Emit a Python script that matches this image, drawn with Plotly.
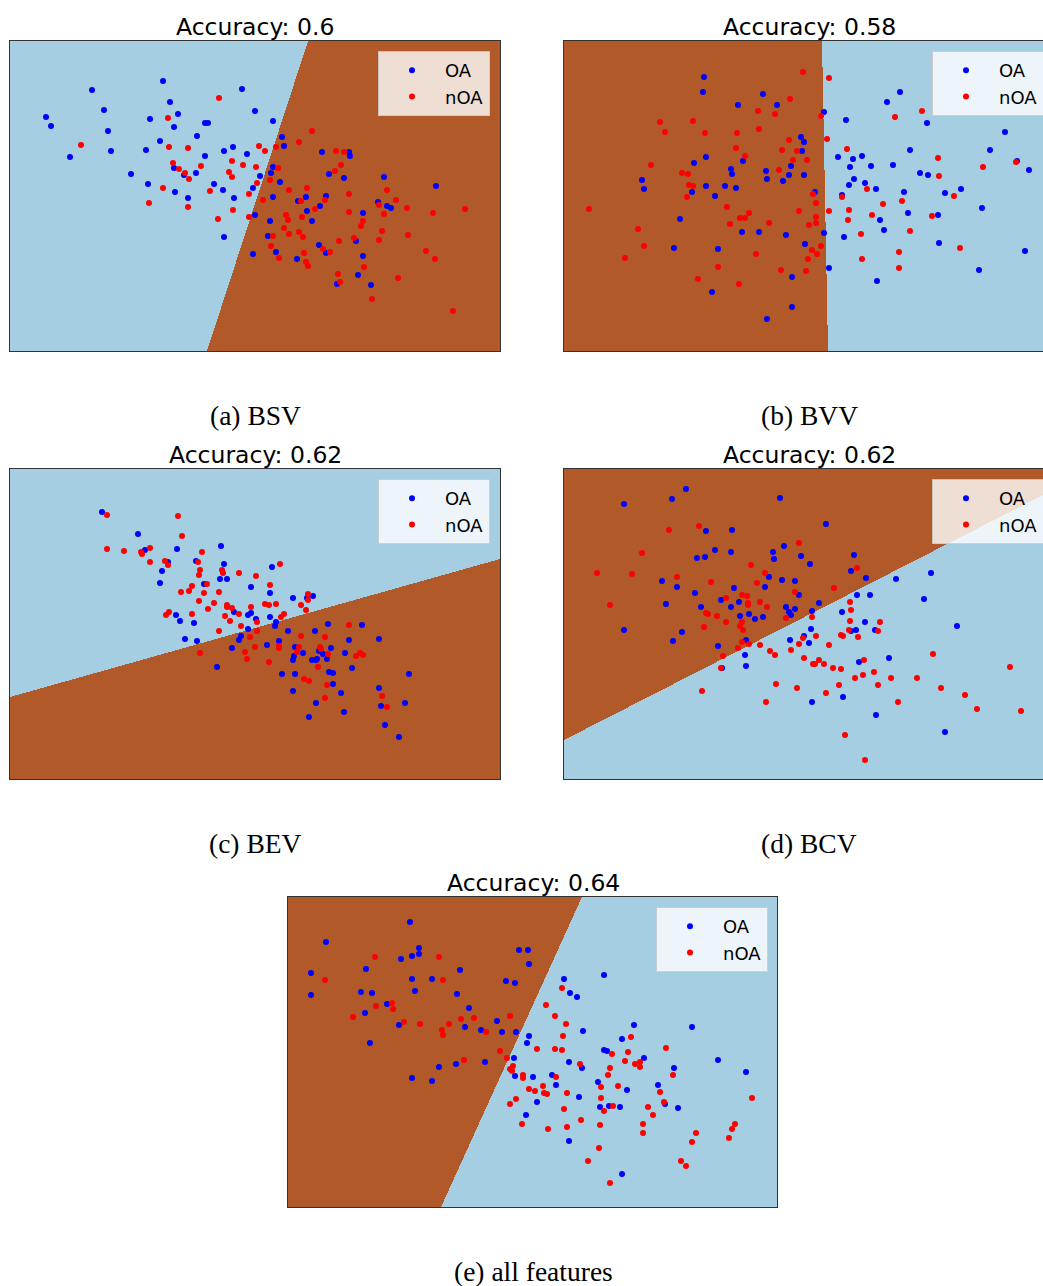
import numpy as np
import plotly.graph_objects as go

W, H = 1043, 1286

# ---------------- data (panel pixel units, y down) ----------------
titles = ["Accuracy: 0.6", "Accuracy: 0.58", "Accuracy: 0.62", "Accuracy: 0.62", "Accuracy: 0.64"]
captions = ["(a) BSV", "(b) BVV", "(c) BEV", "(d) BCV", "(e) all features"]
class_names = ["OA", "nOA"]

a_oa = [(153,40),(82,49),(232,48),(160,61),(94,69),(168,73),(245,70),(36,76),(140,78),(41,85),(195,82),(198,82),(164,86),(98,90),(187,95),(150,100),(136,109),(101,110),(60,116),(214,110),(223,106),(237,113),(195,115),(164,127),(174,134),(186,132),(121,133),(138,143),(204,143),(213,149),(165,151),(178,157),(224,157),(243,147),(250,135),(245,174),(214,196),(243,213),(263,80),(272,96),(274,105),(312,111),(339,111),(340,115),(263,126),(261,132),(319,133),(334,137),(270,141),(374,136),(426,145),(263,156),(296,156),(316,155),(288,160),(310,165),(297,170),(368,161),(377,165),(381,167),(353,172),(260,180),(302,180),(258,195),(346,200),(309,204),(316,212),(266,211),(287,218),(353,215),(348,234),(327,243),(361,244)]
a_noa = [(209,57),(158,77),(71,104),(159,106),(178,107),(249,105),(222,120),(233,124),(246,126),(163,122),(169,128),(175,132),(179,138),(191,125),(219,131),(222,136),(247,142),(153,147),(200,150),(239,153),(139,162),(178,166),(223,169),(208,178),(239,176),(302,90),(289,101),(255,110),(266,106),(326,110),(334,111),(331,124),(268,127),(325,130),(260,139),(279,149),(297,147),(339,153),(377,149),(253,159),(291,160),(315,159),(305,168),(339,171),(369,164),(374,173),(386,159),(397,167),(423,172),(455,168),(276,174),(278,179),(292,176),(353,180),(351,185),(274,187),(279,193),(289,191),(293,196),(263,195),(372,190),(369,199),(398,194),(329,200),(344,197),(261,205),(313,208),(320,211),(294,212),(269,217),(416,210),(425,218),(296,221),(298,225),(354,226),(328,233),(330,241),(388,237),(362,258),(443,270)]
a_boundary = [(298, 0), (197, 310)]
a_corner = "OA"

b_oa = [(140,36),(139,51),(199,53),(174,64),(213,64),(237,96),(240,101),(238,110),(142,116),(130,122),(179,120),(167,128),(168,133),(202,130),(203,138),(227,125),(225,134),(219,140),(240,134),(78,139),(80,148),(142,145),(161,145),(172,147),(128,151),(151,155),(116,178),(178,191),(195,191),(222,194),(241,203),(110,207),(154,208),(228,236),(148,251),(228,266),(203,278),(260,71),(282,79),(336,51),(323,61),(363,82),(441,91),(426,109),(346,109),(274,116),(289,118),(298,115),(286,126),(307,125),(329,124),(453,120),(465,129),(356,132),(364,134),(290,138),(285,144),(301,142),(312,148),(340,151),(381,152),(397,148),(278,154),(418,167),(344,172),(374,174),(316,179),(320,189),(260,192),(280,196),(375,202),(461,210),(265,227),(415,229),(313,240),(251,151)]
b_noa = [(239,31),(226,58),(194,70),(211,73),(96,81),(129,80),(101,91),(141,92),(173,92),(195,88),(225,99),(172,107),(218,109),(233,110),(181,115),(229,119),(243,119),(87,124),(118,132),(124,133),(215,129),(125,144),(129,145),(123,156),(249,153),(25,168),(163,166),(185,172),(176,177),(181,177),(166,183),(235,170),(205,182),(245,184),(74,188),(80,205),(61,217),(192,213),(248,209),(244,218),(154,226),(217,229),(242,230),(134,238),(175,243),(265,37),(257,75),(263,98),(283,108),(252,162),(265,170),(252,176),(252,182),(257,205),(253,213),(303,148),(278,156),(285,169),(284,179),(308,174),(319,163),(338,160),(368,175),(297,193),(346,190),(335,211),(298,218),(335,227),(396,207),(374,117),(375,135),(390,155),(419,126),(452,121),(358,70),(331,76)]
b_boundary = [(258, 0), (264, 310)]
b_corner = "nOA"

c_oa = [(92,43),(128,65),(135,81),(167,80),(211,77),(158,93),(186,92),(214,95),(152,102),(210,110),(217,110),(150,114),(194,115),(241,118),(166,146),(170,152),(184,154),(224,143),(238,146),(241,144),(246,150),(238,160),(175,170),(187,172),(231,167),(229,171),(222,179),(207,198),(262,98),(260,124),(283,129),(297,129),(303,127),(260,148),(266,153),(265,157),(278,162),(305,162),(318,155),(352,156),(339,171),(369,170),(257,176),(269,172),(285,178),(293,184),(309,182),(321,179),(313,185),(335,184),(284,187),(283,191),(302,191),(306,191),(307,190),(317,190),(342,199),(272,205),(285,205),(319,203),(323,204),(399,205),(323,215),(283,222),(331,224),(369,219),(306,234),(371,237),(395,234),(334,243),(299,248),(375,256),(389,268)]
c_noa = [(97,46),(168,47),(172,67),(97,80),(114,82),(131,83),(132,85),(140,79),(192,83),(140,93),(155,92),(158,96),(188,93),(190,101),(189,106),(212,101),(213,104),(229,104),(246,107),(197,115),(182,117),(179,122),(171,123),(194,124),(209,123),(189,132),(204,134),(198,140),(217,136),(217,138),(222,139),(241,138),(229,145),(215,147),(220,152),(247,153),(156,146),(159,143),(182,145),(231,157),(209,162),(247,162),(240,168),(245,178),(235,183),(237,190),(190,184),(270,95),(260,116),(255,135),(259,136),(266,135),(291,136),(298,125),(298,131),(296,141),(271,148),(274,145),(339,156),(291,167),(315,168),(269,177),(269,179),(289,178),(287,183),(310,178),(311,180),(318,185),(346,187),(350,184),(353,186),(259,193),(308,198),(294,210),(299,212),(317,216),(315,229),(372,227),(377,238)]
c_boundary = [(0, 228), (490, 90)]
c_corner = "OA"

d_oa = [(122,20),(60,35),(108,30),(216,29),(142,62),(168,61),(151,81),(133,89),(141,88),(167,83),(209,83),(210,90),(220,77),(237,87),(246,95),(98,112),(113,118),(131,124),(170,119),(205,108),(201,118),(218,111),(231,112),(235,126),(157,131),(175,133),(167,138),(137,138),(102,135),(222,138),(231,140),(225,143),(227,146),(176,147),(185,145),(191,150),(199,148),(60,161),(118,163),(109,172),(154,177),(182,171),(181,186),(182,197),(158,199),(226,171),(245,174),(248,142),(247,160),(248,233),(262,55),(290,86),(287,102),(302,109),(332,110),(367,104),(293,126),(306,126),(255,134),(360,130),(278,143),(301,153),(292,161),(287,162),(311,161),(393,157),(240,167),(325,189),(295,193),(279,228),(312,246),(381,263)]
d_noa = [(105,61),(135,57),(78,84),(33,104),(68,105),(113,108),(147,113),(187,96),(201,104),(193,114),(235,74),(231,123),(46,136),(162,129),(178,126),(183,127),(184,134),(184,136),(196,133),(203,138),(142,144),(144,145),(153,147),(162,153),(178,153),(176,157),(179,161),(140,158),(222,149),(248,148),(178,173),(185,175),(196,176),(174,179),(206,182),(211,186),(159,187),(157,199),(227,181),(235,175),(239,169),(240,189),(249,195),(212,215),(233,219),(138,222),(202,233),(293,99),(270,119),(286,133),(287,141),(286,152),(316,153),(285,161),(314,162),(277,166),(279,167),(294,168),(252,167),(265,176),(255,191),(251,195),(260,195),(269,199),(277,200),(300,191),(369,185),(310,203),(299,206),(291,209),(327,209),(353,209),(314,216),(275,216),(262,224),(377,219),(401,226),(446,198),(413,240),(457,242),(334,233),(281,266),(301,291)]
d_boundary = [(0, 271), (479, 26)]
d_corner = "nOA"

e_oa = [(122,25),(38,45),(131,51),(124,59),(131,57),(113,62),(78,72),(23,76),(172,73),(124,82),(144,82),(231,53),(240,53),(241,67),(218,84),(227,86),(73,95),(84,96),(127,94),(169,97),(23,98),(99,107),(77,116),(181,111),(111,128),(177,130),(209,124),(193,133),(214,135),(228,135),(82,146),(241,139),(239,146),(226,161),(197,165),(168,167),(151,170),(227,179),(245,180),(124,181),(144,184),(249,205),(238,218),(276,82),(316,78),(282,96),(289,100),(346,128),(404,130),(295,134),(334,142),(316,153),(319,154),(356,161),(281,165),(294,171),(386,171),(430,163),(458,175),(264,178),(268,188),(310,185),(339,193),(370,188),(291,200),(312,210),(321,209),(332,210),(377,207),(390,211),(281,244),(334,277)]
e_noa = [(87,60),(151,60),(37,83),(155,83),(104,106),(105,112),(88,109),(65,120),(116,125),(132,127),(161,127),(173,122),(186,121),(222,119),(154,133),(155,138),(198,135),(212,154),(219,161),(249,152),(176,163),(222,172),(225,169),(224,174),(235,178),(235,181),(241,192),(247,194),(222,207),(228,202),(234,227),(274,91),(258,108),(267,119),(278,127),(275,139),(343,140),(267,152),(274,153),(324,157),(340,155),(378,151),(337,164),(347,167),(352,165),(352,170),(292,167),(322,171),(320,178),(385,178),(268,180),(313,190),(330,189),(255,189),(256,196),(259,197),(279,196),(372,195),(376,205),(313,201),(325,209),(316,214),(276,212),(360,210),(365,218),(464,201),(293,223),(260,232),(279,230),(312,228),(355,227),(355,236),(408,236),(404,245),(447,227),(444,232),(441,241),(311,251),(300,264),(393,264),(398,269),(322,286)]
e_boundary = [(294, 0), (153, 310)]
e_corner = "nOA"

# ---------------- layout geometry (pixels on the page) ----------------
# (left, top, visible width, height); panel b/d are cut by the right page edge
boxes = [(10, 41, 490, 310), (564, 41, 479, 310), (10, 469, 490, 310),
         (564, 469, 479, 310), (288, 897, 489, 310)]
FULL_W = 490

panels = [
    (a_oa, a_noa, a_boundary, a_corner),
    (b_oa, b_noa, b_boundary, b_corner),
    (c_oa, c_noa, c_boundary, c_corner),
    (d_oa, d_noa, d_boundary, d_corner),
    (e_oa, e_noa, e_boundary, e_corner),
]

C_OA_REGION = "#a6cee3"
C_NOA_REGION = "#b15928"
C_OA = "#0000ff"
C_NOA = "#ff0000"


def region_grid(boundary, corner, w, h):
    (x0, y0), (x1, y1) = boundary
    xs = np.arange(w) + 0.5
    ys = np.arange(h) + 0.5
    X, Y = np.meshgrid(xs, ys)
    side = (x1 - x0) * (Y - y0) - (y1 - y0) * (X - x0)
    corner_side = (x1 - x0) * (0 - y0) - (y1 - y0) * (0 - x0)
    corner_cls = class_names.index(corner)
    same = (side > 0) == (corner_side > 0)
    z = np.where(same, corner_cls, 1 - corner_cls).astype(np.int8)
    return xs, ys, z


fig = go.Figure()
layout = dict(
    width=W, height=H,
    margin=dict(l=0, r=0, t=0, b=0, autoexpand=False),
    paper_bgcolor="white", plot_bgcolor="white",
    showlegend=True,
    annotations=[],
)

for i, ((oa, noa, boundary, corner), (L, T, w, h)) in enumerate(zip(panels, boxes)):
    n = i + 1
    xa = "x" if n == 1 else f"x{n}"
    ya = "y" if n == 1 else f"y{n}"
    leg = "legend" if n == 1 else f"legend{n}"

    xs, ys, z = region_grid(boundary, corner, w, h)
    fig.add_trace(go.Heatmap(
        x=xs, y=ys, z=z, xaxis=xa, yaxis=ya, zmin=0, zmax=1,
        colorscale=[[0, C_OA_REGION], [0.5, C_OA_REGION], [0.5, C_NOA_REGION], [1, C_NOA_REGION]],
        showscale=False, hoverinfo="skip", showlegend=False))
    for pts, name, col in ((oa, class_names[0], C_OA), (noa, class_names[1], C_NOA)):
        fig.add_trace(go.Scatter(
            x=[p[0] for p in pts], y=[p[1] for p in pts], mode="markers", name=name,
            marker=dict(color=col, size=6, line=dict(width=0)),
            xaxis=xa, yaxis=ya, legend=leg, showlegend=True))

    ax_common = dict(showticklabels=False, ticks="", showgrid=False, zeroline=False,
                     showline=True, mirror=True, linecolor="#333333", linewidth=1,
                     fixedrange=True)
    layout[f"xaxis{'' if n == 1 else n}"] = dict(
        domain=[L / W, (L + w) / W], range=[0, w], anchor=ya, **ax_common)
    layout[f"yaxis{'' if n == 1 else n}"] = dict(
        domain=[1 - (T + h) / H, 1 - T / H], range=[h, 0], anchor=xa, **ax_common)

    layout[leg] = dict(
        x=(L + FULL_W - 10) / W, y=1 - (T + 10) / H, xanchor="right", yanchor="top",
        xref="paper", yref="paper", itemwidth=56,
        bgcolor="rgba(255,255,255,0.8)", bordercolor="rgba(204,204,204,0.9)", borderwidth=1,
        font=dict(family="DejaVu Sans", size=18, color="black"),
        tracegroupgap=0, itemclick=False, itemdoubleclick=False)

    cx = (L + FULL_W / 2) / W
    layout["annotations"].append(dict(
        text=titles[i], x=cx, y=1 - (T - 14) / H, xref="paper", yref="paper",
        xanchor="center", yanchor="middle", showarrow=False,
        font=dict(family="DejaVu Sans", size=23.5, color="black")))
    layout["annotations"].append(dict(
        text=captions[i], x=cx, y=1 - (T + h + 64) / H, xref="paper", yref="paper",
        xanchor="center", yanchor="middle", showarrow=False,
        font=dict(family="Liberation Serif", size=27.5, color="black")))

fig.update_layout(**layout)
fig.write_html(
    "out.html",
    config={"displayModeBar": False},
    post_script="document.body.style.margin='0';document.body.style.padding='0';"
                "document.body.style.overflow='hidden';",
)
